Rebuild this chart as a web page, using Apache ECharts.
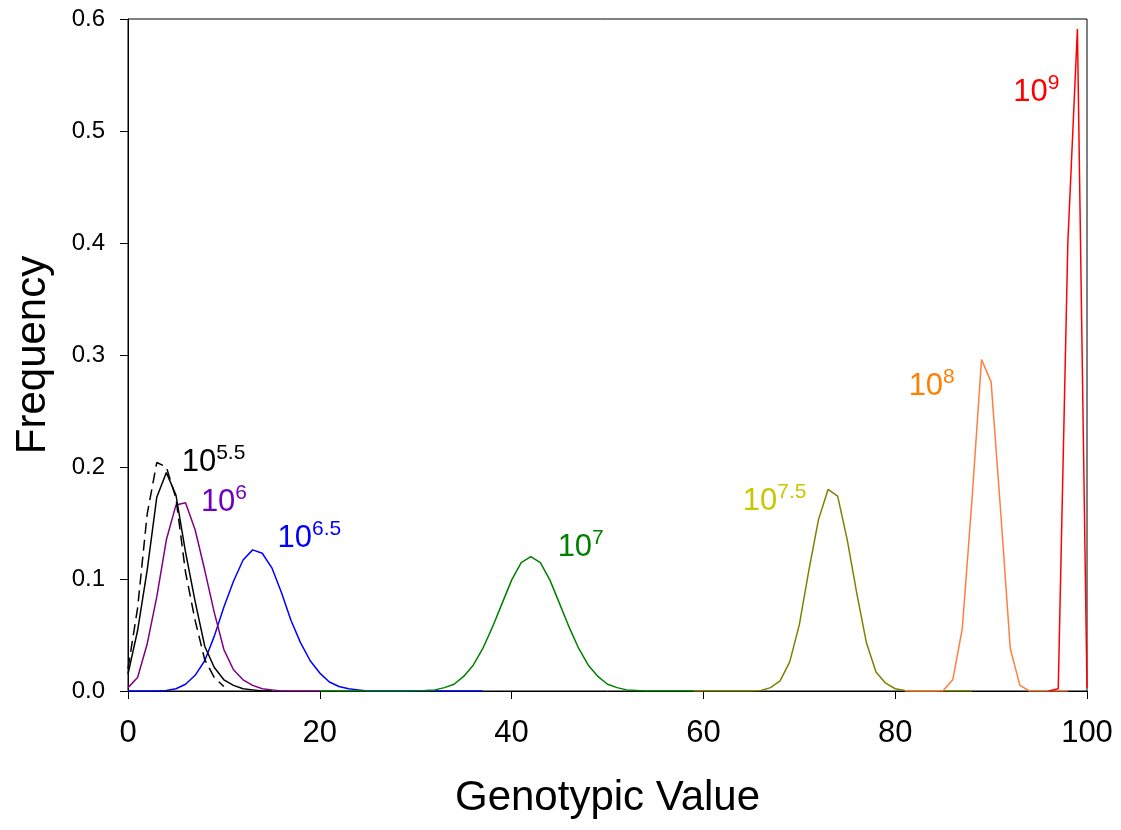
<!DOCTYPE html>
<html>
<head>
<meta charset="utf-8">
<script src="https://cdn.jsdelivr.net/npm/echarts@6/dist/echarts.min.js"></script>
<style>
  html, body { margin: 0; padding: 0; background: #fff; }
  #main { width: 1121px; height: 830px; }
</style>
</head>
<body>
<div id="main"></div>
<script>
// frequency distributions, one per population size
// each series starts at its own x and steps by 1
const start55dash = 0;
const vals55dash = [0.02, 0.074, 0.158, 0.204, 0.2, 0.172, 0.106, 0.063, 0.028, 0.012, 0.004];
const start55 = 0;
const vals55 = [0.015, 0.054, 0.108, 0.173, 0.195, 0.175, 0.124, 0.08, 0.04, 0.021, 0.01, 0.005, 0.002, 0.001, 0, 0];
const start6 = 0;
const vals6 = [0.003, 0.012, 0.042, 0.084, 0.135, 0.166, 0.168, 0.144, 0.108, 0.07, 0.037, 0.019, 0.01, 0.005, 0.002, 0.001, 0, 0, 0, 0, 0];
const start65 = 0;
const vals65 = [0, 0, 0, 0, 0.0005, 0.002, 0.006, 0.014, 0.027, 0.049, 0.075, 0.098, 0.117, 0.126, 0.123, 0.11, 0.088, 0.063, 0.043, 0.027, 0.016, 0.008, 0.004, 0.002, 0.001, 0, 0, 0, 0, 0, 0, 0, 0, 0, 0, 0, 0, 0];
const start7 = 20;
const vals7 = [0, 0, 0, 0, 0, 0, 0, 0, 0, 0, 0.0002, 0.0005, 0.001, 0.003, 0.006, 0.013, 0.023, 0.038, 0.057, 0.078, 0.099, 0.1146, 0.12, 0.1146, 0.099, 0.078, 0.057, 0.038, 0.023, 0.013, 0.006, 0.003, 0.001, 0.0005, 0, 0, 0, 0, 0, 0];
const start75 = 59;
const vals75 = [0, 0, 0, 0, 0, 0, 0, 0.0005, 0.003, 0.009, 0.026, 0.059, 0.108, 0.153, 0.18, 0.174, 0.135, 0.087, 0.043, 0.017, 0.007, 0.002, 0.0005, 0, 0, 0, 0, 0, 0, 0];
const start8 = 81;
const vals8 = [0, 0, 0, 0, 0.0005, 0.01, 0.056, 0.17, 0.296, 0.276, 0.16, 0.038, 0.005, 0, 0, 0, 0, 0];
const start9 = 96;
const vals9 = [0, 0.002, 0.4, 0.591, 0.003];

// label text and where it sits (data coords of the left/middle of "10")
const labelNames = ['5.5', '6', '6.5', '7', '7.5', '8', '9'];
const labelX = [5.6, 7.6, 15.6, 44.8, 64.1, 81.4, 92.3];
const labelY = [0.204, 0.168, 0.136, 0.128, 0.169, 0.272, 0.534];
const labelColors = ['#000000', '#7000c0', '#0000ff', '#008000', '#c8c800', '#ff8000', '#ff0000'];

const yTicks = [0, 0.1, 0.2, 0.3, 0.4, 0.5, 0.6];
const xTicks = [0, 20, 40, 60, 80, 100];

const FONT = '"Liberation Sans", Arial, sans-serif';

function toPairs(start, vals) {
  return vals.map((v, i) => [start + i, v]);
}

function lineSeries(name, start, vals, color, dashed) {
  return {
    name: name,
    type: 'line',
    data: toPairs(start, vals),
    symbol: 'none',
    silent: true,
    animation: false,
    lineStyle: { color: color, width: 1.5, type: dashed ? [11, 6] : 'solid' }
  };
}

let chart = echarts.init(document.getElementById('main'));

let option = {
  backgroundColor: '#fff',
  animation: false,
  grid: {
    left: 128, right: 34, top: 19, bottom: 139,
    show: true, borderColor: '#000', borderWidth: 1
  },
  xAxis: {
    type: 'value',
    min: xTicks[0], max: xTicks[xTicks.length - 1], interval: 20,
    name: 'Genotypic Value',
    nameLocation: 'middle',
    nameGap: 86,
    nameTextStyle: { fontFamily: FONT, fontSize: 42, color: '#000' },
    axisLine: { lineStyle: { color: '#000', width: 1 } },
    axisTick: { show: true, length: 8, lineStyle: { color: '#000' } },
    axisLabel: { fontFamily: FONT, fontSize: 31, color: '#000', margin: 27 },
    splitLine: { show: false }
  },
  yAxis: {
    type: 'value',
    min: yTicks[0], max: yTicks[yTicks.length - 1], interval: 0.1,
    name: 'Frequency',
    nameLocation: 'middle',
    nameGap: 74,
    nameTextStyle: { fontFamily: FONT, fontSize: 42, color: '#000' },
    axisLine: { show: true, lineStyle: { color: '#000', width: 1 } },
    axisTick: { show: true, length: 8, lineStyle: { color: '#000' } },
    axisLabel: {
      fontFamily: FONT, fontSize: 24, color: '#000', margin: 23,
      formatter: v => v.toFixed(1)
    },
    splitLine: { show: false }
  },
  series: [
    lineSeries('6.5', start65, vals65, '#0000ff'),
    lineSeries('6', start6, vals6, '#800080'),
    lineSeries('5.5', start55, vals55, '#000000'),
    lineSeries('5.5b', start55dash, vals55dash, '#000000', true),
    lineSeries('7', start7, vals7, '#008000'),
    lineSeries('7.5', start75, vals75, '#808000'),
    lineSeries('8', start8, vals8, '#ff7f3f'),
    lineSeries('9', start9, vals9, '#ff0000'),
    {
      type: 'scatter',
      silent: true,
      symbolSize: 0,
      itemStyle: { opacity: 1 },
      data: labelNames.map((n, i) => ({
        value: [labelX[i], labelY[i]],
        label: {
          show: true,
          position: 'right',
          distance: 0,
          opacity: 1,
          formatter: '{b|10}{s|' + n + '}',
          rich: {
            b: { fontFamily: FONT, fontSize: 31, color: labelColors[i], lineHeight: 40 },
            s: { fontFamily: FONT, fontSize: 21, color: labelColors[i], lineHeight: 20, verticalAlign: 'top' }
          }
        }
      }))
    }
  ]
};

chart.setOption(option);
window.addEventListener('resize', () => {
  chart.resize();
});
</script>
</body>
</html>
